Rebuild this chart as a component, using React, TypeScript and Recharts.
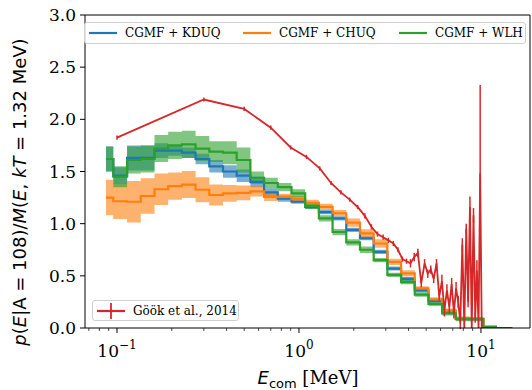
import {
  Area,
  ComposedChart,
  ErrorBar,
  Line,
  ReferenceLine,
  XAxis,
  YAxis,
} from "recharts";

// bin edges of the CGMF histograms (MeV)
const BIN_EDGES = [
  0.087, 0.0954, 0.1136, 0.1351, 0.1607, 0.1911, 0.2273, 0.2703, 0.3214, 0.3823,
  0.4546, 0.5407, 0.643, 0.7647, 0.9094, 1.0815, 1.2862, 1.5297, 1.8192, 2.1635,
  2.573, 3.06, 3.639, 4.328, 5.147, 6.121, 7.28, 8.658, 10.3, 12.25,
];

const KDUQ = [
  1.62, 1.46, 1.63, 1.63, 1.7, 1.7, 1.68, 1.62, 1.55, 1.5, 1.46, 1.4, 1.3, 1.24,
  1.21, 1.16, 1.11, 1.05, 0.94, 0.86, 0.73, 0.57, 0.47, 0.36, 0.26, 0.16, 0.09,
  0.085, 0.01,
];
const KDUQ_ERR = [
  0.12, 0.08, 0.12, 0.12, 0.07, 0.05, 0.05, 0.05, 0.06, 0.06, 0.06, 0.05, 0.04,
  0.03, 0.02, 0.02, 0.02, 0.02, 0.02, 0.02, 0.02, 0.02, 0.02, 0.02, 0.02, 0.02,
  0.01, 0.01, 0.005,
];

const CHUQ = [
  1.25, 1.215, 1.21, 1.265, 1.33, 1.36, 1.375, 1.325, 1.275, 1.29, 1.295, 1.31,
  1.257, 1.257, 1.235, 1.2, 1.16, 1.1, 1.01, 0.906, 0.81, 0.634, 0.523, 0.38,
  0.275, 0.166, 0.093, 0.09, 0.01,
];
const CHUQ_ERR = [
  0.17, 0.17, 0.2, 0.17, 0.15, 0.13, 0.13, 0.12, 0.1, 0.08, 0.07, 0.05, 0.04,
  0.03, 0.03, 0.03, 0.03, 0.03, 0.04, 0.04, 0.04, 0.03, 0.03, 0.02, 0.02, 0.02,
  0.02, 0.01, 0.005,
];

const WLH = [
  1.62, 1.45, 1.61, 1.62, 1.72, 1.75, 1.76, 1.72, 1.69, 1.68, 1.61, 1.44, 1.39,
  1.35, 1.29, 1.17, 1.05, 0.92, 0.82, 0.75, 0.65, 0.51, 0.44, 0.32, 0.23, 0.14,
  0.085, 0.085, 0.01,
];
const WLH_ERR = [
  0.12, 0.1, 0.13, 0.13, 0.13, 0.13, 0.13, 0.12, 0.1, 0.11, 0.12, 0.06, 0.05,
  0.04, 0.04, 0.03, 0.03, 0.03, 0.03, 0.03, 0.02, 0.02, 0.02, 0.02, 0.02, 0.02,
  0.02, 0.02, 0.01,
];

// Göök et al., 2014
const GOOK_E = [
  0.1, 0.3, 0.5, 0.7, 0.9, 1.1, 1.3, 1.5, 1.7, 1.9, 2.1, 2.3, 2.5, 2.7, 2.9, 3.1,
  3.3, 3.5, 3.7, 3.9, 4.1, 4.3, 4.5, 4.7, 4.9, 5.1, 5.3, 5.5, 5.7, 5.9, 6.1, 6.3,
  6.5, 6.7, 6.9, 7.1, 7.3, 7.5, 7.7, 7.9, 8.1, 8.3, 8.5, 8.7, 8.9, 9.1, 9.3, 9.5,
  9.7, 9.9, 10.1, 10.3, 10.5, 10.7, 10.9, 11.1, 11.3, 11.5, 11.7, 11.9, 12.1,
  12.3, 12.5, 12.7, 12.9, 13.1, 13.3, 13.5, 13.7, 13.9, 14.1, 14.3, 14.5, 14.7,
  14.9,
];
const GOOK_P = [
  1.825, 2.19, 2.1, 1.92, 1.73, 1.64, 1.53, 1.39, 1.3, 1.23, 1.16, 1.075, 0.97,
  0.9, 0.87, 0.84, 0.81, 0.75, 0.66, 0.64, 0.62, 0.68, 0.72, 0.43, 0.62, 0.52,
  0.56, 0.47, 0.62, 0.3, 0.45, 0.17, 0.36, 0.2, 0.42, 0.15, 0.38, 0.25, 0.05, 0.8,
  0, 0.95, 0.25, 1.16, 0, 1.08, 0.1, 0.55, 0, 1.48, 0, 0, 0, 0, 0, 0, 0, 0, 0, 0,
  0, 0, 0, 0, 0, 0, 0, 0, 0, 0, 0, 0, 0, 0, 0,
];
const GOOK_ERR = [
  0.02, 0.02, 0.02, 0.02, 0.02, 0.02, 0.02, 0.02, 0.02, 0.02, 0.02, 0.025, 0.025,
  0.025, 0.025, 0.025, 0.025, 0.025, 0.025, 0.025, 0.04, 0.04, 0.04, 0.04, 0.04,
  0.04, 0.04, 0.04, 0.04, 0.04, 0.06, 0.06, 0.06, 0.06, 0.06, 0.06, 0.06, 0.06,
  0.06, 0.06, 0, 0.05, 0.05, 0.1, 0, 0.07, 0.05, 0.1, 0, 0.85, 0, 0, 0, 0, 0, 0,
  0, 0, 0, 0, 0, 0, 0, 0, 0, 0, 0, 0, 0, 0, 0, 0, 0, 0, 0,
];

const X_TICKS = [
  0.07, 0.08, 0.09, 0.1, 0.2, 0.3, 0.4, 0.5, 0.6, 0.7, 0.8, 0.9, 1, 2, 3, 4, 5, 6,
  7, 8, 9, 10,
];
const Y_TICKS = [0, 0.5, 1, 1.5, 2, 2.5, 3];

const X_MIN = 0.0667;
const X_MAX = 18.6;

const BLUE = "#1f77b4";
const ORANGE = "#ff7f0e";
const GREEN = "#2ca02c";
const RED = "#d62728";

function stepRows(values: number[], errs: number[]) {
  const rows = values.map((v, i) => ({
    x: BIN_EDGES[i],
    y: v,
    band: [v - errs[i], v + errs[i]],
  }));
  const last = values.length - 1;
  rows.push({
    x: BIN_EDGES[last + 1],
    y: values[last],
    band: [values[last] - errs[last], values[last] + errs[last]],
  });
  return rows;
}

const SUP: Record<string, string> = { "-1": "\u22121", "0": "0", "1": "1" };

function XTick(props: any) {
  const { x, y, payload } = props;
  const lg = Math.log10(payload.value);
  const exp = Math.round(lg);
  const major = Math.abs(lg - exp) < 1e-6;
  return (
    <g>
      <line
        x1={x}
        x2={x}
        y1={y}
        y2={y + (major ? 5 : 3)}
        stroke="#000"
        strokeWidth={major ? 1 : 0.7}
      />
      {major && (
        <text
          x={x}
          y={y + 29}
          textAnchor="middle"
          fontFamily="DejaVu Serif"
          fontSize={17}
          fill="#000"
        >
          10
          <tspan dy={-8} fontSize={12}>
            {SUP[String(exp)]}
          </tspan>
        </text>
      )}
    </g>
  );
}

function YTick(props: any) {
  const { x, y, payload } = props;
  return (
    <g>
      <line x1={x - 5} x2={x} y1={y} y2={y} stroke="#000" strokeWidth={1} />
      <text
        x={x - 9}
        y={y}
        dy="0.36em"
        textAnchor="end"
        fontFamily="DejaVu Serif"
        fontSize={17}
        fill="#000"
      >
        {Number(payload.value).toFixed(1)}
      </text>
    </g>
  );
}

function LegendLine({ color }: { color: string }) {
  return (
    <svg width={28} height={8} style={{ display: "block" }}>
      <line x1={0} x2={28} y1={4} y2={4} stroke={color} strokeWidth={2.2} />
    </svg>
  );
}

export default function App() {
  const kduq = stepRows(KDUQ, KDUQ_ERR);
  const chuq = stepRows(CHUQ, CHUQ_ERR);
  const wlh = stepRows(WLH, WLH_ERR);
  const gook = GOOK_E.map((e, i) => ({ x: e, y: GOOK_P[i], err: GOOK_ERR[i] }));

  const legendItems = [
    { label: "CGMF + KDUQ", color: BLUE, left: 4 },
    { label: "CGMF + CHUQ", color: ORANGE, left: 158 },
    { label: "CGMF + WLH", color: GREEN, left: 314 },
  ];

  return (
    <div
      style={{
        position: "absolute",
        left: 0,
        top: 0,
        width: 532,
        height: 390,
        background: "#fff",
      }}
    >
      <ComposedChart
        width={532}
        height={390}
        margin={{ top: 15, right: 2, bottom: 0, left: 0 }}
      >
        <XAxis
          type="number"
          dataKey="x"
          scale="log"
          domain={[X_MIN, X_MAX]}
          allowDataOverflow
          ticks={X_TICKS}
          interval={0}
          tick={XTick}
          tickSize={0}
          tickMargin={0}
          tickLine={false}
          height={62}
          axisLine={{ stroke: "#000", strokeWidth: 1 }}
          label={{
            content: () => (
              <text x={308} y={384} textAnchor="middle" fontSize={18} fill="#000">
                <tspan fontFamily="DejaVu Sans" fontStyle="italic">E</tspan>
                <tspan fontFamily="DejaVu Sans" fontSize={13} dy={4}>com</tspan>
                <tspan fontFamily="DejaVu Serif" dy={-4}> [MeV]</tspan>
              </text>
            ),
          }}
        />
        <YAxis
          type="number"
          domain={[0, 3]}
          ticks={Y_TICKS}
          interval={0}
          allowDataOverflow
          tick={YTick}
          tickSize={0}
          tickMargin={0}
          tickLine={false}
          width={85}
          axisLine={{ stroke: "#000", strokeWidth: 1 }}
          label={{
            content: () => (
              <text
                x={26}
                y={192}
                textAnchor="middle"
                transform="rotate(-90, 26, 192)"
                fontFamily="DejaVu Sans"
                fontSize={18}
                fill="#000"
              >
                <tspan fontStyle="italic">p</tspan>(<tspan fontStyle="italic">E</tspan>|A = 108)/
                <tspan fontStyle="italic">M</tspan>(<tspan fontStyle="italic">E</tspan>,{" "}
                <tspan fontStyle="italic">kT</tspan> = 1.32 MeV)
              </text>
            ),
          }}
        />
        <ReferenceLine y={3} stroke="#000" strokeWidth={1} ifOverflow="extendDomain" />
        <ReferenceLine x={X_MAX} stroke="#000" strokeWidth={1} />

        <Area
          data={kduq}
          dataKey="band"
          type="stepAfter"
          stroke="none"
          fill={BLUE}
          fillOpacity={0.6}
          isAnimationActive={false}
        />
        <Line
          data={kduq}
          dataKey="y"
          type="stepAfter"
          stroke={BLUE}
          strokeWidth={2.2}
          dot={false}
          isAnimationActive={false}
        />
        <Area
          data={chuq}
          dataKey="band"
          type="stepAfter"
          stroke="none"
          fill={ORANGE}
          fillOpacity={0.6}
          isAnimationActive={false}
        />
        <Line
          data={chuq}
          dataKey="y"
          type="stepAfter"
          stroke={ORANGE}
          strokeWidth={2.2}
          dot={false}
          isAnimationActive={false}
        />
        <Area
          data={wlh}
          dataKey="band"
          type="stepAfter"
          stroke="none"
          fill={GREEN}
          fillOpacity={0.6}
          isAnimationActive={false}
        />
        <Line
          data={wlh}
          dataKey="y"
          type="stepAfter"
          stroke={GREEN}
          strokeWidth={2.2}
          dot={false}
          isAnimationActive={false}
        />
        <Line
          data={gook}
          dataKey="y"
          type="linear"
          stroke={RED}
          strokeWidth={1.8}
          dot={false}
          isAnimationActive={false}
        >
          <ErrorBar dataKey="err" width={0} stroke={RED} strokeWidth={1.5} direction="y" />
        </Line>
      </ComposedChart>

      {/* top legend */}
      <div
        style={{
          position: "absolute",
          left: 84,
          top: 22,
          width: 440,
          height: 20,
          border: "1px solid #d0d0d0",
          borderRadius: 3,
          background: "rgba(255,255,255,0.8)",
          fontFamily: "DejaVu Serif",
          fontSize: 12,
          color: "#000",
        }}
      >
        {legendItems.map((item) => (
          <div
            key={item.label}
            style={{
              position: "absolute",
              left: item.left,
              top: 0,
              height: 20,
              display: "flex",
              alignItems: "center",
              gap: 8,
              whiteSpace: "nowrap",
            }}
          >
            <LegendLine color={item.color} />
            <span>{item.label}</span>
          </div>
        ))}
      </div>

      {/* bottom-left legend */}
      <div
        style={{
          position: "absolute",
          left: 92,
          top: 300,
          width: 147,
          height: 21,
          border: "1px solid #d0d0d0",
          borderRadius: 3,
          background: "rgba(255,255,255,0.8)",
          fontFamily: "DejaVu Serif",
          fontSize: 12,
          color: "#000",
          display: "flex",
          alignItems: "center",
          gap: 8,
          paddingLeft: 4,
          boxSizing: "border-box",
          whiteSpace: "nowrap",
        }}
      >
        <svg width={28} height={18} style={{ display: "block" }}>
          <line x1={0} x2={28} y1={9} y2={9} stroke={RED} strokeWidth={2.2} />
          <line x1={14} x2={14} y1={1} y2={17} stroke={RED} strokeWidth={1.8} />
        </svg>
        <span>Göök et al., 2014</span>
      </div>
    </div>
  );
}
